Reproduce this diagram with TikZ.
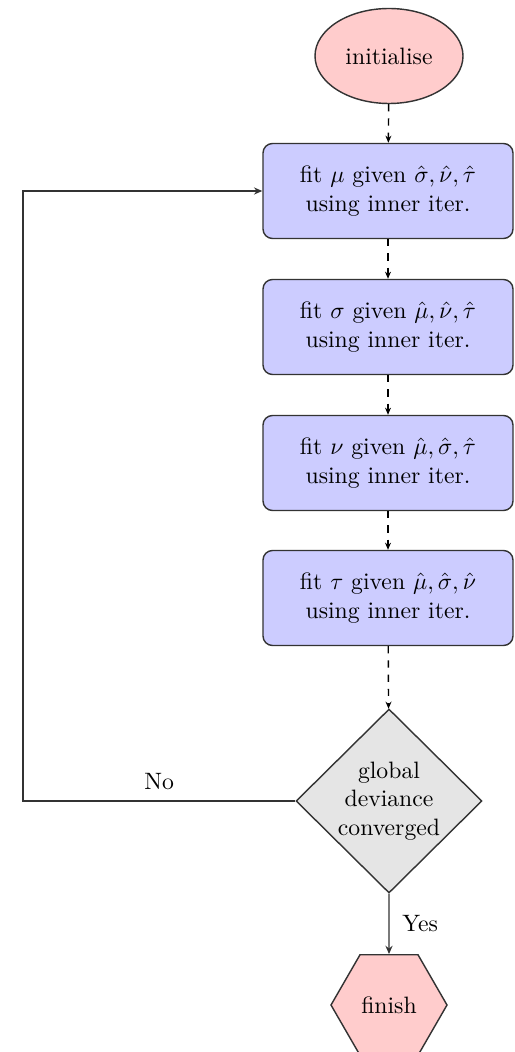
\documentclass[tikz,border=0pt]{standalone}
\usetikzlibrary{shapes.geometric,arrows.meta}
\begin{document}
\begin{tikzpicture}[x=0.422pt,y=-0.422pt,
  every node/.style={font=\normalsize},
  startnode/.style={ellipse,draw=black!80,fill=red!20,line width=0.6pt,minimum width=148*0.422pt,minimum height=95*0.422pt,inner sep=0pt},
  fitbox/.style={rectangle,rounded corners=4pt,draw=black!80,fill=blue!20,line width=0.6pt,minimum width=250*0.422pt,minimum height=95*0.422pt,align=center,inner sep=2pt},
  decision/.style={diamond,draw=black!80,fill=black!10,line width=0.6pt,minimum width=186*0.422pt,minimum height=184*0.422pt,inner sep=0pt,align=center},
  endnode/.style={regular polygon,regular polygon sides=6,draw=black!80,fill=red!20,line width=0.6pt,minimum size=116*0.422pt,inner sep=0pt},
  dashline/.style={dashed,line width=0.6pt,-{Stealth[length=3pt,width=2.5pt]}},
  solidline/.style={line width=0.6pt,draw=black!80,-{Stealth[length=3.5pt,width=3pt]}}]
\useasboundingbox (0,0) rectangle (514,1052);
\node[startnode] (init) at (389,56) {initialise};
\node[fitbox] (b1) at (388,191) {fit $\mu$ given $\hat\sigma,\hat\nu,\hat\tau$\\using inner iter.};
\node[fitbox] (b2) at (388,327) {fit $\sigma$ given $\hat\mu,\hat\nu,\hat\tau$\\using inner iter.};
\node[fitbox] (b3) at (388,463) {fit $\nu$ given $\hat\mu,\hat\sigma,\hat\tau$\\using inner iter.};
\node[fitbox] (b4) at (388,598) {fit $\tau$ given $\hat\mu,\hat\sigma,\hat\nu$\\using inner iter.};
\node[decision] (dev) at (389,801) {global\\deviance\\converged};
\node[endnode] (fin) at (389,1005) {finish};
\coordinate (lb) at (23,801);
\draw[dashline] (init) -- (b1);
\draw[dashline] (b1) -- (b2);
\draw[dashline] (b2) -- (b3);
\draw[dashline] (b3) -- (b4);
\draw[dashline] (b4) -- (dev);
\draw[solidline] (dev) -- node[above=1pt] {No} (lb) |- (b1);
\draw[solidline] (dev) -- node[right=2pt] {Yes} (fin);
\end{tikzpicture}
\end{document}
